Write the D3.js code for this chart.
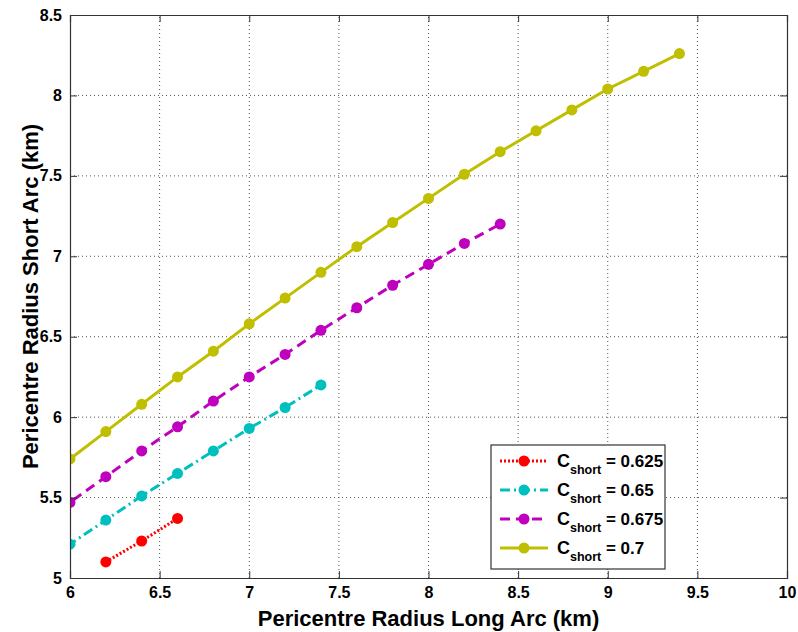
<!DOCTYPE html>
<html>
<head>
<meta charset="utf-8">
<script src="https://cdn.jsdelivr.net/npm/d3@7"></script>
<style>
  body { margin: 0; background: #fff; }
  text { font-family: "Liberation Sans", Arial, sans-serif; font-weight: bold; }
</style>
</head>
<body>
<svg id="chart" width="798" height="632"></svg>
<script>
// x values (pericentre radius long arc, km)
const xRed = [6.2, 6.4, 6.6];
const yRed = [5.10, 5.23, 5.37];

const xCyan = [5.8, 6.0, 6.2, 6.4, 6.6, 6.8, 7.0, 7.2, 7.4];
const yCyan = [5.06, 5.21, 5.36, 5.51, 5.65, 5.79, 5.93, 6.06, 6.20];

const xMagenta = [5.8, 6.0, 6.2, 6.4, 6.6, 6.8, 7.0, 7.2, 7.4, 7.6, 7.8, 8.0, 8.2, 8.4];
const yMagenta = [5.31, 5.47, 5.63, 5.79, 5.94, 6.10, 6.25, 6.39, 6.54, 6.68, 6.82, 6.95, 7.08, 7.20];

const xYellow = [5.8, 6.0, 6.2, 6.4, 6.6, 6.8, 7.0, 7.2, 7.4, 7.6, 7.8, 8.0, 8.2, 8.4, 8.6, 8.8, 9.0, 9.2, 9.4];
const yYellow = [5.57, 5.74, 5.91, 6.08, 6.25, 6.41, 6.58, 6.74, 6.90, 7.06, 7.21, 7.36, 7.51, 7.65, 7.78, 7.91, 8.04, 8.15, 8.26];

const seriesNames = ['0.625', '0.65', '0.675', '0.7'];
const xTicks = [6, 6.5, 7, 7.5, 8, 8.5, 9, 9.5, 10];
const yTicks = [5, 5.5, 6, 6.5, 7, 7.5, 8, 8.5];

const series = [
    {name: seriesNames[0], xs: xRed, ys: yRed, color: '#ff0000', dash: '2,2'},
    {name: seriesNames[1], xs: xCyan, ys: yCyan, color: '#00bfbf', dash: '10,4,2,4'},
    {name: seriesNames[2], xs: xMagenta, ys: yMagenta, color: '#bf00bf', dash: '10,6'},
    {name: seriesNames[3], xs: xYellow, ys: yYellow, color: '#bfbf00', dash: null},
];

const margin = {left: 70, right: 11, top: 15, bottom: 54};
const width = 798, height = 632;

const svg = d3.select('#chart');

const x = d3.scaleLinear().domain([6, 10]).range([margin.left, width - margin.right]);
const y = d3.scaleLinear().domain([5, 8.5]).range([height - margin.bottom, margin.top]);

// grid
svg.append('g')
    .selectAll('line')
    .data(xTicks.slice(1, -1))
    .join('line')
    .attr('x1', d => x(d)).attr('x2', d => x(d))
    .attr('y1', y(5)).attr('y2', y(8.5))
    .attr('stroke', '#555').attr('stroke-width', 1).attr('stroke-dasharray', '1,3');

svg.append('g')
    .selectAll('line')
    .data(yTicks.slice(1, -1))
    .join('line')
    .attr('y1', d => y(d)).attr('y2', d => y(d))
    .attr('x1', x(6)).attr('x2', x(10))
    .attr('stroke', '#555').attr('stroke-width', 1).attr('stroke-dasharray', '1,3');

// clip
svg.append('clipPath').attr('id', 'clip')
    .append('rect')
    .attr('x', x(6)).attr('y', y(8.5))
    .attr('width', x(10) - x(6)).attr('height', y(5) - y(8.5));

const plot = svg.append('g').attr('clip-path', 'url(#clip)');

const line = d3.line().x(d => x(d[0])).y(d => y(d[1]));

series.forEach(s => {
    let pts = s.xs.map((v, i) => [v, s.ys[i]]);
    plot.append('path')
        .datum(pts)
        .attr('d', line)
        .attr('fill', 'none')
        .attr('stroke', s.color)
        .attr('stroke-width', 3)
        .attr('stroke-dasharray', s.dash);
    plot.append('g')
        .selectAll('circle')
        .data(pts)
        .join('circle')
        .attr('cx', d => x(d[0]))
        .attr('cy', d => y(d[1]))
        .attr('r', 5.5)
        .attr('fill', s.color);
});

// axes (ticks inside, box all round)
const tickLen = 7;
const axB = svg.append('g').attr('transform', `translate(0,${y(5)})`)
    .call(d3.axisBottom(x).tickValues(xTicks).tickSize(-tickLen).tickPadding(9).tickFormat(d3.format('')));
const axL = svg.append('g').attr('transform', `translate(${x(6)},0)`)
    .call(d3.axisLeft(y).tickValues(yTicks).tickSize(-tickLen).tickPadding(8).tickFormat(d3.format('')));
const axT = svg.append('g').attr('transform', `translate(0,${y(8.5)})`)
    .call(d3.axisTop(x).tickValues(xTicks).tickSize(-tickLen).tickFormat(''));
const axR = svg.append('g').attr('transform', `translate(${x(10)},0)`)
    .call(d3.axisRight(y).tickValues(yTicks).tickSize(-tickLen).tickFormat(''));

[axB, axL, axT, axR].forEach(a => {
    a.selectAll('path').attr('stroke', '#333').attr('stroke-width', 1.2);
    a.selectAll('line').attr('stroke', '#333').attr('stroke-width', 1);
    a.selectAll('text').attr('fill', '#000').style('font-size', '16px')
        .style('font-family', '"Liberation Sans", Arial, sans-serif').style('font-weight', 'bold');
});

// axis labels
svg.append('text')
    .attr('x', (x(6) + x(10)) / 2).attr('y', 626)
    .attr('text-anchor', 'middle')
    .style('font-size', '22px')
    .text('Pericentre Radius Long Arc (km)');

svg.append('text')
    .attr('transform', `translate(38,${(y(5) + y(8.5)) / 2}) rotate(-90)`)
    .attr('text-anchor', 'middle')
    .style('font-size', '22px')
    .text('Pericentre Radius Short Arc (km)');

// legend
const lg = svg.append('g').attr('transform', 'translate(491,445)');
lg.append('rect')
    .attr('width', 174).attr('height', 124)
    .attr('fill', '#fff').attr('stroke', '#333').attr('stroke-width', 1.2);

series.forEach((s, i) => {
    let g = lg.append('g').attr('transform', `translate(0,${16 + i * 29})`);
    g.append('line')
        .attr('x1', 9).attr('x2', 57)
        .attr('stroke', s.color).attr('stroke-width', 3)
        .attr('stroke-dasharray', s.dash);
    g.append('circle').attr('cx', 33).attr('r', 5.5).attr('fill', s.color);
    let t = g.append('text').attr('x', 66).attr('y', 6).style('font-size', '17px');
    t.append('tspan').style('font-size', '18px').text('C');
    t.append('tspan').attr('dy', 7).style('font-size', '12.5px').text('short');
    t.append('tspan').attr('dy', -7).text(' = ' + s.name);
});
</script>
</body>
</html>
